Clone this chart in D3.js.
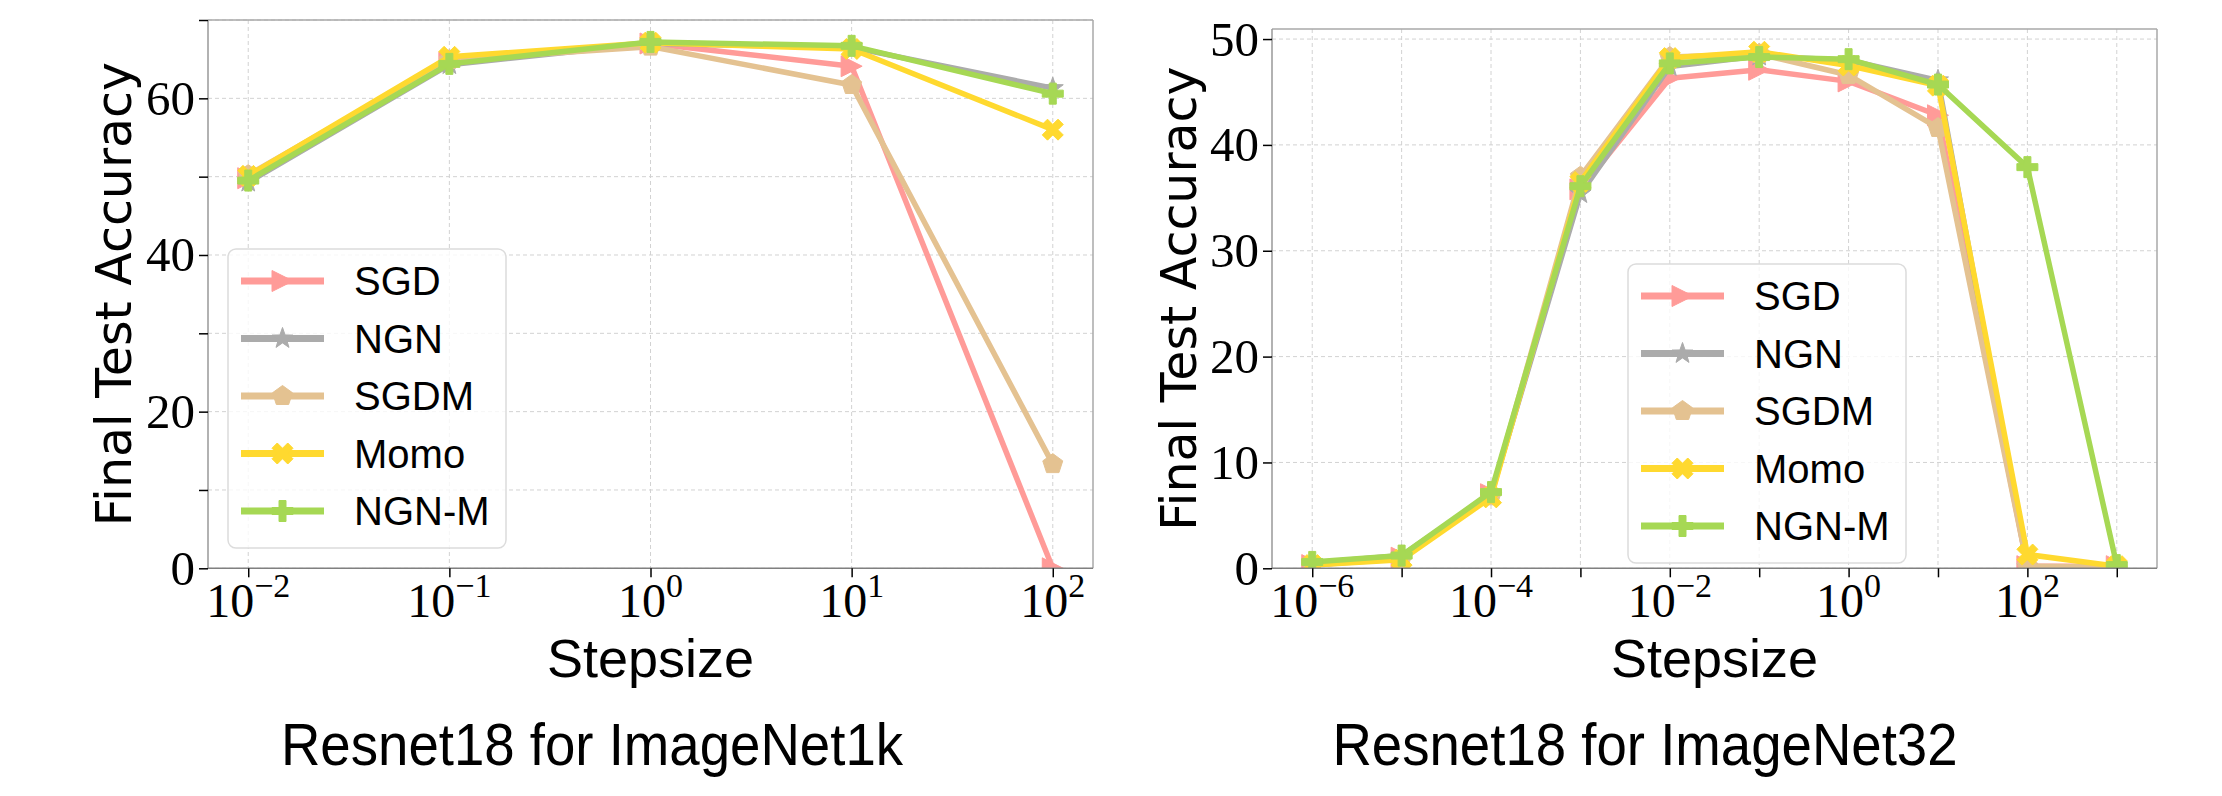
<!DOCTYPE html>
<html>
<head>
<meta charset="utf-8">
<script src="https://cdn.jsdelivr.net/npm/d3@7"></script>
<style>
  body { margin: 0; background: #fff; }
  svg { display: block; }
</style>
</head>
<body>
<svg id="chart" width="2222" height="796"></svg>
<script>
// Method names, colours and marker shapes (same order in both panels)
const methods = ['SGD', 'NGN', 'SGDM', 'Momo', 'NGN-M'];
const colors = ['#ff9b98', '#ababab', '#e4c291', '#ffd92f', '#a6d854'];
const markers = ['triangle', 'star', 'pentagon', 'x', 'plus'];

// Resnet18 for ImageNet1k
const stepsIn1k = [1e-2, 1e-1, 1e0, 1e1, 1e2];
const in1kSGD  = [49.8, 64.6, 67.0, 64.1, 0.0];
const in1kNGN  = [49.3, 64.3, 67.0, 66.5, 61.3];
const in1kSGDM = [50.2, 64.9, 66.6, 61.7, 13.3];
const in1kMomo = [50.1, 65.3, 67.1, 66.3, 56.0];
const in1kNGNM = [49.5, 64.4, 67.2, 66.7, 60.6];

// Resnet18 for ImageNet32
const stepsIn32 = [1e-6, 1e-5, 1e-4, 1e-3, 1e-2, 1e-1, 1e0, 1e1, 1e2, 1e3];
const in32SGD  = [0.3, 1.0, 7.0, 35.8, 46.3, 47.1, 46.0, 42.8, 0.2, 0.2];
const in32NGN  = [0.5, 1.2, 7.0, 35.4, 47.4, 48.4, 48.0, 46.1, 0.1, 0.2];
const in32SGDM = [0.3, 0.9, 6.8, 37.0, 48.3, 48.6, 46.6, 41.6, 0.2, 0.1];
const in32Momo = [0.3, 0.8, 6.7, 36.5, 48.2, 48.8, 47.5, 45.6, 1.3, 0.2];
const in32NGNM = [0.6, 1.2, 7.2, 36.1, 47.7, 48.3, 48.1, 45.7, 37.9, 0.3];

// Tick values (x ticks as powers of ten)
const xTicksIn1k = [-2, -1, 0, 1, 2];
const xLabelsIn1k = [-2, -1, 0, 1, 2];
const yTicksIn1k = [0, 10, 20, 30, 40, 50, 60, 70];
const yLabelsIn1k = [0, 20, 40, 60];
const xTicksIn32 = [-6, -5, -4, -3, -2, -1, 0, 1, 2, 3];
const xLabelsIn32 = [-6, -4, -2, 0, 2];
const yTicksIn32 = [0, 10, 20, 30, 40, 50];
const yLabelsIn32 = [0, 10, 20, 30, 40, 50];

const svg = d3.select('#chart');

// Build a marker outline centred on 0,0 with overall size s
function markerPath(type, s) {
    const h = s / 2;
    let pts = [];
    if (type === 'triangle') {
        pts = [[h, 0], [-h, h], [-h, -h]];
    } else if (type === 'star') {
        for (let i = 0; i < 10; i++) {
            const r = i % 2 === 0 ? h * 1.05 : h * 0.42;
            const a = -Math.PI / 2 + i * Math.PI / 5;
            pts.push([r * Math.cos(a), r * Math.sin(a)]);
        }
    } else if (type === 'pentagon') {
        for (let i = 0; i < 5; i++) {
            const a = -Math.PI / 2 + i * 2 * Math.PI / 5;
            pts.push([h * Math.cos(a), h * Math.sin(a)]);
        }
    } else if (type === 'x') {
        pts = [[-1, -2], [0, -1], [1, -2], [2, -1], [1, 0], [2, 1], [1, 2], [0, 1], [-1, 2], [-2, 1], [-1, 0], [-2, -1]]
            .map(p => [p[0] * s / 4, p[1] * s / 4]);
    } else {
        pts = [[-1, -3], [1, -3], [1, -1], [3, -1], [3, 1], [1, 1], [1, 3], [-1, 3], [-1, 1], [-3, 1], [-3, -1], [-1, -1]]
            .map(p => [p[0] * s / 6, p[1] * s / 6]);
    }
    return 'M' + pts.map(p => p[0].toFixed(2) + ',' + p[1].toFixed(2)).join('L') + 'Z';
}

function drawPanel(p) {
    const x = d3.scaleLog().domain(p.xDomain).range([p.left, p.right]);
    const y = d3.scaleLinear().domain(p.yDomain).range([p.bottom, p.top]);
    const g = svg.append('g');

    svg.append('clipPath').attr('id', 'clip-' + p.id)
        .append('rect')
        .attr('x', p.left).attr('y', p.top)
        .attr('width', p.right - p.left).attr('height', p.bottom - p.top);

    // Grid
    g.append('g').selectAll('line')
        .data(p.xTicks.map(e => Math.pow(10, e)))
        .join('line')
        .attr('x1', d => x(d)).attr('x2', d => x(d))
        .attr('y1', p.top).attr('y2', p.bottom)
        .attr('stroke', '#d2d2d2').attr('stroke-width', 1).attr('stroke-dasharray', '4,3');
    g.append('g').selectAll('line')
        .data(p.yTicks)
        .join('line')
        .attr('x1', p.left).attr('x2', p.right)
        .attr('y1', d => y(d)).attr('y2', d => y(d))
        .attr('stroke', '#d2d2d2').attr('stroke-width', 1).attr('stroke-dasharray', '4,3');

    // Lines and markers
    const plot = g.append('g').attr('clip-path', `url(#clip-${p.id})`);
    p.series.forEach((vals, i) => {
        const pts = p.steps.map((s, k) => [x(s), y(vals[k])]);
        plot.append('path')
            .attr('d', d3.line()(pts))
            .attr('fill', 'none')
            .attr('stroke', colors[i])
            .attr('stroke-width', 5.5)
            .attr('stroke-linejoin', 'round');
        plot.append('g').selectAll('path')
            .data(pts)
            .join('path')
            .attr('transform', d => `translate(${d[0]},${d[1]})`)
            .attr('d', markerPath(markers[i], 21))
            .attr('fill', colors[i])
            .attr('stroke', colors[i])
            .attr('stroke-width', 1);
    });

    // Spines
    g.append('line').attr('x1', p.left).attr('x2', p.right).attr('y1', p.top).attr('y2', p.top)
        .attr('stroke', '#a8a8a8').attr('stroke-width', 1.5);
    g.append('line').attr('x1', p.right).attr('x2', p.right).attr('y1', p.top).attr('y2', p.bottom)
        .attr('stroke', '#a8a8a8').attr('stroke-width', 1.5);
    g.append('line').attr('x1', p.left).attr('x2', p.left).attr('y1', p.top).attr('y2', p.bottom)
        .attr('stroke', '#999').attr('stroke-width', 1.5);
    g.append('line').attr('x1', p.left).attr('x2', p.right).attr('y1', p.bottom).attr('y2', p.bottom)
        .attr('stroke', '#808080').attr('stroke-width', 1.5);

    // Tick marks
    const xAxis = g.append('g')
        .attr('transform', `translate(0,${p.bottom})`)
        .call(d3.axisBottom(x).tickValues(p.xTicks.map(e => Math.pow(10, e))).tickFormat('').tickSize(9));
    xAxis.select('.domain').remove();
    xAxis.selectAll('line').attr('stroke', '#000').attr('stroke-width', 1.5);

    const yAxis = g.append('g')
        .attr('transform', `translate(${p.left},0)`)
        .call(d3.axisLeft(y).tickValues(p.yTicks).tickFormat('').tickSize(9));
    yAxis.select('.domain').remove();
    yAxis.selectAll('line').attr('stroke', '#000').attr('stroke-width', 1.5);

    // Tick labels (serif)
    p.yLabels.forEach(v => {
        g.append('text')
            .attr('x', p.left - 13)
            .attr('y', y(v))
            .attr('text-anchor', 'end')
            .attr('dominant-baseline', 'central')
            .style('font-family', 'Liberation Serif, serif')
            .style('font-size', '49px')
            .text(v);
    });
    p.xLabels.forEach(e => {
        const t = g.append('text')
            .attr('x', x(Math.pow(10, e)))
            .attr('y', p.bottom + 49)
            .attr('text-anchor', 'middle')
            .style('font-family', 'Liberation Serif, serif')
            .style('font-size', '48px');
        t.append('tspan').text('10');
        t.append('tspan')
            .attr('dy', -20)
            .style('font-size', '34px')
            .text(e < 0 ? '\u2212' + (-e) : String(e));
    });

    // Axis labels and title
    g.append('text')
        .attr('transform', `translate(${p.ylabelX},${(p.top + p.bottom) / 2}) rotate(-90)`)
        .attr('text-anchor', 'middle')
        .style('font-family', 'DejaVu Sans, sans-serif')
        .style('font-size', '49px')
        .text('Final Test Accuracy');
    g.append('text')
        .attr('x', (p.left + p.right) / 2)
        .attr('y', 677)
        .attr('text-anchor', 'middle')
        .style('font-family', 'Liberation Sans, sans-serif')
        .style('font-size', '54px')
        .text('Stepsize');
    g.append('text')
        .attr('transform', `translate(${p.titleX},765) scale(0.91,1)`)
        .attr('text-anchor', 'middle')
        .style('font-family', 'Liberation Sans, sans-serif')
        .style('font-size', '60px')
        .text(p.title);

    // Legend
    const lg = g.append('g').attr('transform', `translate(${p.legendX},${p.legendY})`);
    lg.append('rect')
        .attr('width', 278).attr('height', 299)
        .attr('rx', 8)
        .attr('fill', 'rgba(255,255,255,0.8)')
        .attr('stroke', '#dcdcdc').attr('stroke-width', 1.5);
    methods.forEach((m, i) => {
        const cy = 32 + i * 57.5;
        lg.append('line')
            .attr('x1', 13).attr('x2', 96).attr('y1', cy).attr('y2', cy)
            .attr('stroke', colors[i]).attr('stroke-width', 7);
        lg.append('path')
            .attr('transform', `translate(54.5,${cy})`)
            .attr('d', markerPath(markers[i], 21))
            .attr('fill', colors[i])
            .attr('stroke', colors[i]);
        lg.append('text')
            .attr('x', 126).attr('y', cy)
            .attr('dominant-baseline', 'central')
            .style('font-family', 'Liberation Sans, sans-serif')
            .style('font-size', '40px')
            .text(m);
    });
}

drawPanel({
    id: 'in1k',
    left: 208, right: 1093, top: 20, bottom: 568.3,
    xDomain: [Math.pow(10, -2.2), Math.pow(10, 2.2)],
    yDomain: [0, 70],
    xTicks: xTicksIn1k, xLabels: xLabelsIn1k,
    yTicks: yTicksIn1k, yLabels: yLabelsIn1k,
    steps: stepsIn1k,
    series: [in1kSGD, in1kNGN, in1kSGDM, in1kMomo, in1kNGNM],
    ylabelX: 131, titleX: 592,
    title: 'Resnet18 for ImageNet1k',
    legendX: 228, legendY: 249
});

drawPanel({
    id: 'in32',
    left: 1272, right: 2157, top: 29, bottom: 568.3,
    xDomain: [Math.pow(10, -6.45), Math.pow(10, 3.45)],
    yDomain: [0, 50.95],
    xTicks: xTicksIn32, xLabels: xLabelsIn32,
    yTicks: yTicksIn32, yLabels: yLabelsIn32,
    steps: stepsIn32,
    series: [in32SGD, in32NGN, in32SGDM, in32Momo, in32NGNM],
    ylabelX: 1196, titleX: 1645,
    title: 'Resnet18 for ImageNet32',
    legendX: 1628, legendY: 264
});
</script>
</body>
</html>
